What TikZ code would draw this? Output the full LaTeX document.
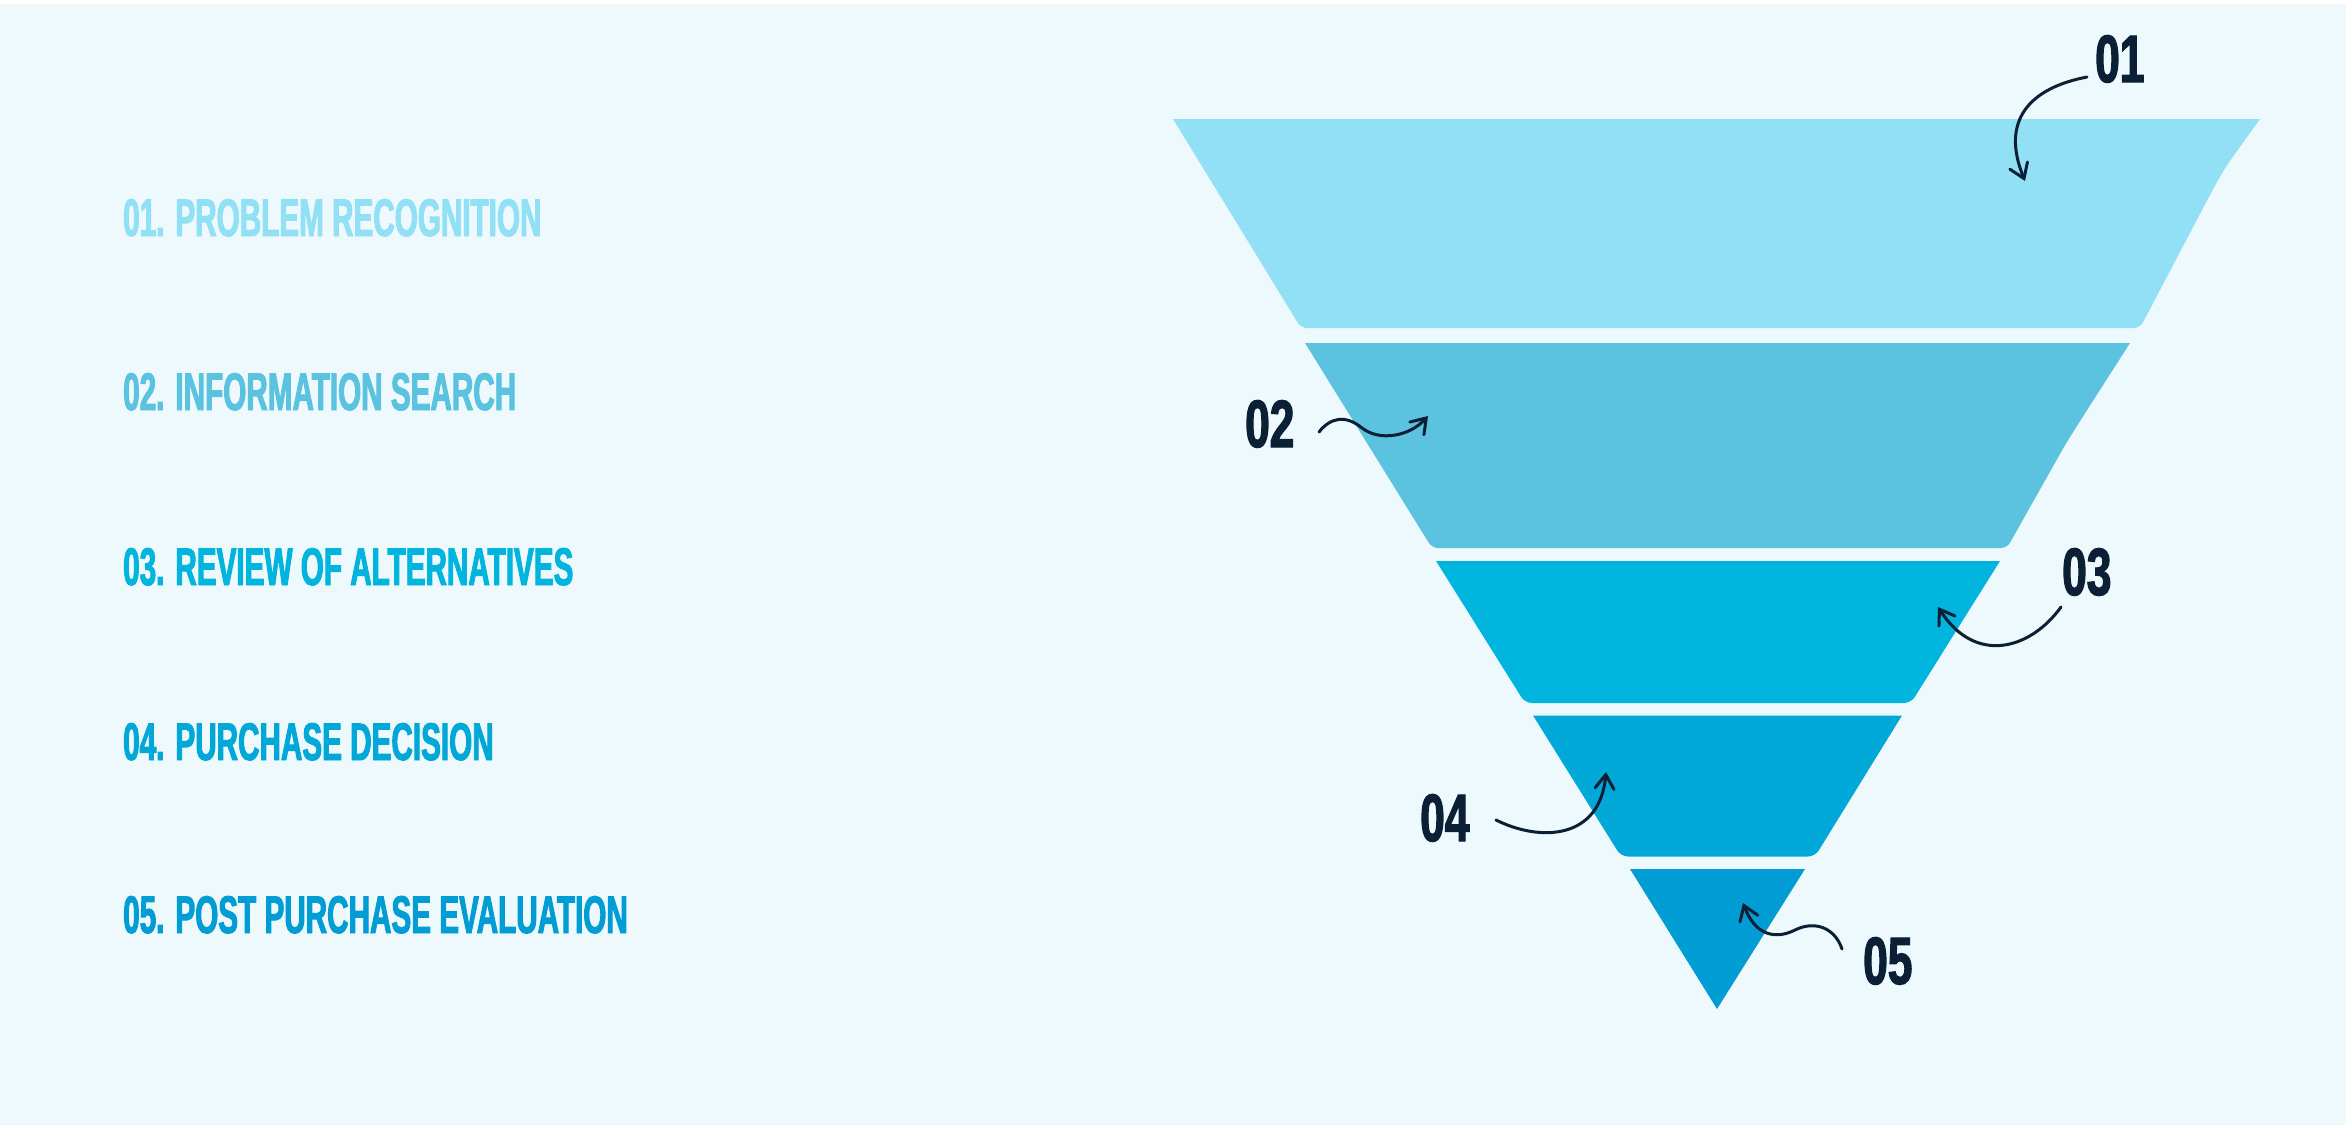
\documentclass[tikz,border=0pt]{standalone}
\usepackage{fontspec}
\usetikzlibrary{arrows.meta}
\newfontfamily\ftext{Liberation Sans}[FakeStretch=0.56,FakeBold=1.8]
\newfontfamily\flabel{Liberation Sans}[FakeStretch=0.66,FakeBold=1.8]
\definecolor{bgc}{HTML}{EEF9FE}
\definecolor{cA}{HTML}{91E0F5}
\definecolor{cB}{HTML}{5BC2DF}
\definecolor{cC}{HTML}{00B5DD}
\definecolor{cD}{HTML}{00A8D8}
\definecolor{cE}{HTML}{009DD4}
\definecolor{navy}{HTML}{0B1F35}
\tikzset{
  steptext/.style={anchor=base west,inner sep=0pt,font=\ftext\bfseries\fontsize{53}{53}\selectfont},
  numlabel/.style={anchor=base west,inner sep=0pt,text=navy,font=\flabel\bfseries\fontsize{67}{67}\selectfont},
  curl/.style={draw=navy,line width=3pt,line cap=round,-{Straight Barb[length=14pt,width=19pt,line cap=round]}}
}
\begin{document}
\begin{tikzpicture}[x=1pt,y=-1pt]
\useasboundingbox (0,0) rectangle (2346,1133);
\fill[white] (0,0) rectangle (2346,1133);
\fill[bgc] (0,4) rectangle (2346,1125);

% funnel layers
\fill[cA] (1700,119) -- (2260,119) -- (2232,158) .. controls (2223,171) and (2218,180) .. (2211,193)
  [rounded corners=6] -- (2140,328) -- (1301,328) [sharp corners] -- (1173,119) -- cycle;
\fill[cB] (1700,343) -- (2130,343) -- (2082,418) .. controls (2072,434) and (2066,443) .. (2060,454)
  [rounded corners=6] -- (2007,548) -- (1432,548) [sharp corners] -- (1305,343) -- cycle;
\fill[cC] (1700,561) -- (2000,561) [rounded corners=7] -- (1911,703) -- (1525,703) [sharp corners] -- (1436,561) -- cycle;
\fill[cD] (1700,715.5) -- (1902,715.5) [rounded corners=7] -- (1815,856.5) -- (1621,856.5) [sharp corners] -- (1533,715.5) -- cycle;
\fill[cE] (1630,869) -- (1805,869) -- (1717,1009) -- cycle;

% left texts
\node[steptext,text=cA] (t1) at (123,236) {01. PROBLEM RECOGNITION};
\node[steptext,text=cB] (t2) at (123,410) {02. INFORMATION SEARCH};
\node[steptext,text=cC] (t3) at (123,585) {03. REVIEW OF ALTERNATIVES};
\node[steptext,text=cD] (t4) at (123,760) {04. PURCHASE DECISION};
\node[steptext,text=cE] (t5) at (123,933) {05. POST PURCHASE EVALUATION};

% number labels
\node[numlabel] (n1) at (2095,82) {01};
\node[numlabel] (n2) at (1245,447) {02};
\node[numlabel] (n3) at (2062,595) {03};
\node[numlabel] (n4) at (1420,841) {04};
\node[numlabel] (n5) at (1863,984) {05};

% arrow end points
\coordinate (s1) at (2087,77);   \coordinate (e1) at (2025,181);
\coordinate (s2) at (1319,432);  \coordinate (e2) at (1428,416);
\coordinate (s3) at (2061,607);  \coordinate (e3) at (1938,607);
\coordinate (s4) at (1496,820);  \coordinate (e4) at (1606,772);
\coordinate (s5) at (1842,949);  \coordinate (e5) at (1743,903);

\draw[curl] (s1) .. controls (2030,88) and (2000,120) .. (e1);
\draw[curl] (s2) .. controls (1330,418) and (1345,414) .. (1362,428) .. controls (1380,442) and (1410,436) .. (e2);
\draw[curl] (s3) .. controls (2030,650) and (1975,665) .. (e3);
\draw[curl] (s4) .. controls (1540,842) and (1600,840) .. (e4);
\draw[curl] (s5) .. controls (1835,928) and (1815,920) .. (1795,930) .. controls (1775,940) and (1755,935) .. (e5);
\end{tikzpicture}
\end{document}
